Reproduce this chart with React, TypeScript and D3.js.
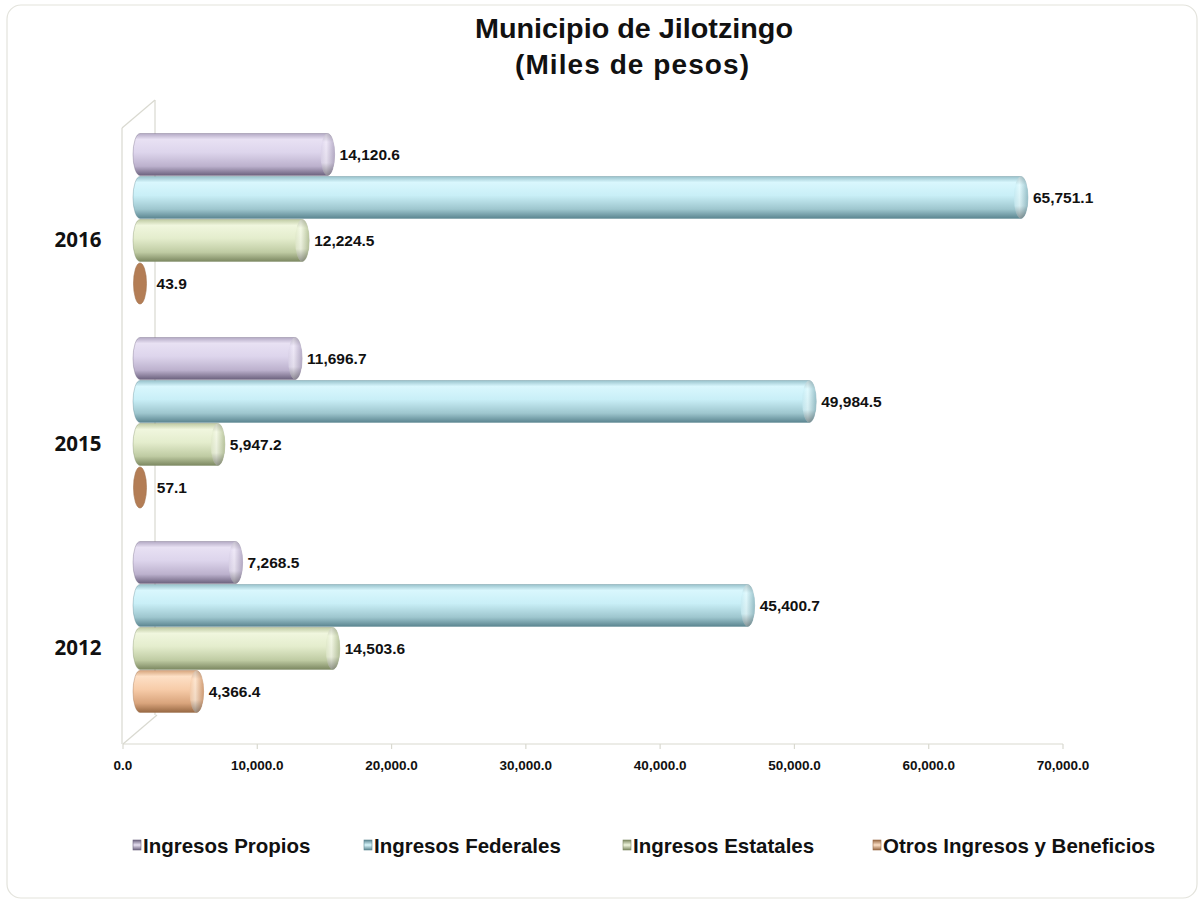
import React from "react";
import * as d3 from "d3";

const categories = ["2016", "2015", "2012"];
const seriesNames = ["Ingresos Propios", "Ingresos Federales", "Ingresos Estatales", "Otros Ingresos y Beneficios"];
const propios = [14120.6, 11696.7, 7268.5];
const federales = [65751.1, 49984.5, 45400.7];
const estatales = [12224.5, 5947.2, 14503.6];
const otros = [43.9, 57.1, 4366.4];
const xTicks = [0, 10000, 20000, 30000, 40000, 50000, 60000, 70000];

const seriesValues = [propios, federales, estatales, otros];

const palettes = [
  { id: "pro", stops: ["#b3a9c4", "#e8e1f3", "#ddd5ec", "#bcb1cd", "#6c627e"], cap: ["#efe9f8", "#b9afca"], dark: "#9a8fb0" },
  { id: "fed", stops: ["#98c2cc", "#d9f7fd", "#c9eff7", "#9ec6ce", "#5b8590"], cap: ["#e2fafe", "#9ac3cc"], dark: "#7fa9b4" },
  { id: "est", stops: ["#c0cba4", "#f0f6de", "#e4edcd", "#bfcba3", "#7c8861"], cap: ["#f4f9e6", "#bcc8a0"], dark: "#a4b088" },
  { id: "otr", stops: ["#d6a57d", "#fde0c6", "#f7cca9", "#d9a47c", "#976843"], cap: ["#feE6d0", "#d6a178"], dark: "#b37d55" },
];

const fmt = d3.format(",.1f");
const FONT = "'Liberation Sans', Arial, sans-serif";

export default function App() {
  const W = 1204, H = 903;
  const x = d3.scaleLinear().domain([0, 70000]).range([123, 1063]);
  const depthX = 15;
  const y = d3.scaleBand().domain(categories).range([133, 745]).paddingInner(0).paddingOuter(0);
  const inner = d3.scaleBand().domain(seriesNames).range([0, 172]).padding(0);
  const capRx = 7;

  const cylinderPath = (x0: number, x1: number, top: number, h: number) => {
    const ry = h / 2;
    return `M${x0},${top} L${x1},${top} A${capRx},${ry} 0 0 1 ${x1},${top + h} L${x0},${top + h} A${capRx},${ry} 0 0 1 ${x0},${top} Z`;
  };

  return (
    <svg width={W} height={H} viewBox={`0 0 ${W} ${H}`} style={{ display: "block", position: "absolute", left: 0, top: 0 }}>
      <defs>
        {palettes.map((p) => (
          <linearGradient key={p.id} id={`g-${p.id}`} x1="0" y1="0" x2="0" y2="1">
            <stop offset="0%" stopColor={p.stops[0]} />
            <stop offset="14%" stopColor={p.stops[1]} />
            <stop offset="45%" stopColor={p.stops[2]} />
            <stop offset="78%" stopColor={p.stops[3]} />
            <stop offset="100%" stopColor={p.stops[4]} />
          </linearGradient>
        ))}
        {palettes.map((p) => (
          <linearGradient key={p.id + "c"} id={`c-${p.id}`} x1="0" y1="0" x2="1" y2="0">
            <stop offset="0%" stopColor={p.stops[2]} />
            <stop offset="40%" stopColor={p.cap[0]} />
            <stop offset="100%" stopColor={p.cap[1]} />
          </linearGradient>
        ))}
        <linearGradient id="shade" x1="0" y1="0" x2="0" y2="1">
          <stop offset="0%" stopColor="#000" stopOpacity={0.18} />
          <stop offset="20%" stopColor="#000" stopOpacity={0} />
          <stop offset="70%" stopColor="#000" stopOpacity={0.05} />
          <stop offset="100%" stopColor="#000" stopOpacity={0.4} />
        </linearGradient>
        {palettes.map((p) => (
          <linearGradient key={p.id + "l"} id={`l-${p.id}`} x1="0" y1="0" x2="0" y2="1">
            <stop offset="0%" stopColor={p.stops[4]} />
            <stop offset="50%" stopColor={p.stops[1]} />
            <stop offset="100%" stopColor={p.stops[4]} />
          </linearGradient>
        ))}
      </defs>

      <rect x={7} y={5} width={1190} height={893} rx={14} ry={14} fill="#ffffff" stroke="#e3e3dc" strokeWidth={1.2} />

      <text x={634} y={38} textAnchor="middle" fontFamily={FONT} fontWeight="bold" fontSize={28} textLength={318} lengthAdjust="spacingAndGlyphs" fill="#111">Municipio de Jilotzingo</text>
      <text x={632} y={74} textAnchor="middle" fontFamily={FONT} fontWeight="bold" fontSize={28} textLength={234} lengthAdjust="spacing" fill="#111">(Miles de pesos)</text>

      {/* 3D walls */}
      <g stroke="#d9d9d0" strokeWidth={1.2} fill="none">
        <line x1={122} y1={128} x2={155} y2={100} />
        <line x1={122} y1={128} x2={122} y2={744} />
        <line x1={155} y1={100} x2={155} y2={715} />
        <line x1={123} y1={744} x2={157} y2={715} />
        <line x1={x(0)} y1={744} x2={x(70000)} y2={744} />
        {xTicks.map((t) => (
          <line key={t} x1={x(t)} y1={744} x2={x(t)} y2={749} />
        ))}
      </g>

      {xTicks.map((t) => (
        <text key={t} x={x(t)} y={770} textAnchor="middle" fontFamily={FONT} fontWeight="bold" fontSize={13.5} fill="#111">{fmt(t)}</text>
      ))}

      {categories.map((c) => (
        <text key={c} x={78} y={(y(c) as number) + 114} textAnchor="middle" fontFamily="'Open Sans', sans-serif" fontWeight="bold" fontSize={20.5} fill="#111">{c}</text>
      ))}

      {categories.map((c, ci) => (
        <g key={c}>
          {seriesNames.map((s, si) => {
            const v = seriesValues[si][ci];
            const p = palettes[si];
            const top = (y(c) as number) + (inner(s) as number);
            const h = inner.bandwidth();
            const x0 = x(0) + depthX + 2;
            const x1 = x(v) + depthX;
            const tiny = x1 - x0 < 3;
            return (
              <g key={s}>
                {tiny ? (
                  <ellipse cx={x0} cy={top + h / 2} rx={capRx - 0.5} ry={h / 2 - 1} fill={p.dark} stroke={d3.color(p.dark)!.darker(0.3).toString()} strokeWidth={0.6} />
                ) : (
                  <>
                    <path d={cylinderPath(x0, x1, top + 0.5, h - 1)} fill={`url(#g-${p.id})`} stroke={p.stops[4]} strokeWidth={0.6} strokeOpacity={0.6} />
                    <ellipse cx={x1} cy={top + h / 2} rx={capRx} ry={(h - 1) / 2} fill={`url(#c-${p.id})`} />
                    <ellipse cx={x1} cy={top + h / 2} rx={capRx} ry={(h - 1) / 2} fill="url(#shade)" />
                  </>
                )}
                <text x={x1 + capRx + (tiny ? 11 : 5)} y={top + h / 2} dy="0.35em" fontFamily={FONT} fontWeight="bold" fontSize={15.5} fill="#111">{fmt(v)}</text>
              </g>
            );
          })}
        </g>
      ))}

      {/* legend */}
      {seriesNames.map((s, si) => {
        const lx = [133, 364, 623, 873][si];
        const p = palettes[si];
        return (
          <g key={s}>
            <rect x={lx} y={840} width={8} height={10} fill={`url(#l-${p.id})`} stroke={p.stops[4]} strokeWidth={0.6} />
            <text x={lx + 10} y={853} fontFamily={FONT} fontWeight="bold" fontSize={20.5} fill="#111">{s}</text>
          </g>
        );
      })}
    </svg>
  );
}
